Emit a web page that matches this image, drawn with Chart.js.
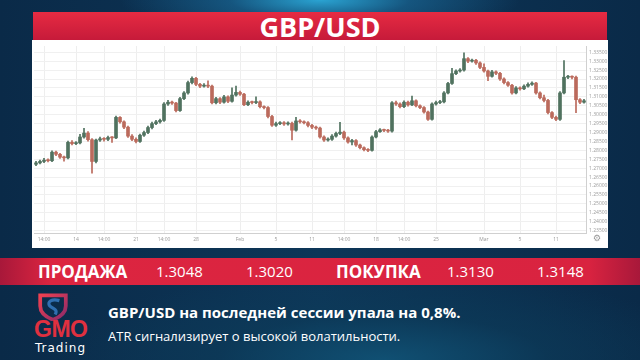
<!DOCTYPE html>
<html>
<head>
<meta charset="utf-8">
<script src="https://cdn.jsdelivr.net/npm/chart.js@4.4.0/dist/chart.umd.min.js"></script>
<style>
  html, body { margin: 0; padding: 0; }
  body {
    width: 640px; height: 360px; overflow: hidden; position: relative;
    font-family: "Open Sans", sans-serif;
    background:
      radial-gradient(ellipse 200px 40px at 50% 0%, #2aa3d2 0%, rgba(30,120,170,0.5) 45%, rgba(10,45,75,0) 100%),
      radial-gradient(ellipse 330px 90px at 60% 100%, #105073 0%, rgba(12,60,90,0.6) 50%, rgba(8,35,60,0) 100%),
      linear-gradient(90deg, #0a2a48 0%, #0d3658 50%, #0a2a48 100%);
  }
  #header {
    position: absolute; left: 33px; top: 12px; width: 574px; height: 28px;
    background: linear-gradient(#e62b42, #c61a3a);
    color: #fff; font-weight: 700; font-size: 27px; line-height: 29px; text-align: center;
  }
  #panel { position: absolute; left: 32px; top: 40px; width: 576px; height: 208px; background: #fff; }
  #gear { position: absolute; left: 593px; top: 233px; font-size: 9px; color: #999; font-family: "DejaVu Sans"; }
  #quotes {
    position: absolute; left: 0; top: 258px; width: 640px; height: 27px;
    background: linear-gradient(90deg, #a8183a 0%, #dc2540 8%, #d92340 92%, #a8183a 100%);
  }
  .q { position: absolute; top: 0; line-height: 27px; color: #fff; font-size: 15px; }
  .q.b { font-weight: 700; font-size: 17px; }
  #line1 { position: absolute; left: 108px; top: 302px; color: #fff; font-weight: 700; font-size: 15px; }
  #line2 { position: absolute; left: 108px; top: 327px; color: #fff; font-size: 13px; }
  #gmo { position: absolute; left: 34px; top: 316px; color: #e0303f; font-weight: 900; font-size: 23px;
    font-family: "Liberation Sans", sans-serif; letter-spacing: -0.5px; transform: scaleX(1.0); transform-origin: left; }
  #trading { position: absolute; left: 35px; top: 341px; color: #fff; font-size: 12px; letter-spacing: 1px;
    font-family: "DejaVu Sans", sans-serif; }
  #shield { position: absolute; left: 37px; top: 293px; }
</style>
</head>
<body>
<div id="header">GBP/USD</div>
<div id="panel"><canvas id="gbpusd-chart" width="576" height="208"></canvas></div>
<div id="gear">⚙</div>

<div id="quotes">
  <span class="q b" style="left:38px">ПРОДАЖА</span>
  <span class="q" style="left:156px">1.3048</span>
  <span class="q" style="left:246px">1.3020</span>
  <span class="q b" style="left:336px">ПОКУПКА</span>
  <span class="q" style="left:447px">1.3130</span>
  <span class="q" style="left:537px">1.3148</span>
</div>

<svg id="shield" width="32" height="28" viewBox="0 0 30 26">
  <defs>
    <linearGradient id="sg" x1="0" y1="0" x2="1" y2="1">
      <stop offset="0" stop-color="#f04050"/>
      <stop offset="1" stop-color="#8a2a6a"/>
    </linearGradient>
  </defs>
  <path d="M3 2 L27 2 L27 12 C27 19 20 23 15 25 C10 23 3 19 3 12 Z" fill="none" stroke="url(#sg)" stroke-width="3.5"/>
  <path d="M21 7 C14 5 9 8 12 12 C15 15 20 15 17 20" fill="none" stroke="#2f6fb0" stroke-width="3"/>
</svg>
<div id="gmo">GMO</div>
<div id="trading">Trading</div>

<div id="line1">GBP/USD на последней сессии упала на 0,8%.</div>
<div id="line2">ATR сигнализирует о высокой волатильности.</div>

<script>
const opens = [1.2722,1.2730,1.2738,1.2745,1.2742,1.2790,1.2778,1.2762,1.2758,1.2845,
  1.2838,1.2842,1.2875,1.2897,1.2860,1.2738,1.2858,1.2865,1.2862,1.2872,
  1.2870,1.2985,1.2960,1.2930,1.2880,1.2862,1.2850,1.2885,1.2900,1.2928,
  1.2950,1.2960,1.2968,1.3060,1.3070,1.3065,1.3023,1.3090,1.3122,1.3180,
  1.3204,1.3170,1.3160,1.3165,1.3160,1.3067,1.3090,1.3070,1.3100,1.3075,
  1.3110,1.3125,1.3115,1.3056,1.3070,1.3068,1.3072,1.3045,1.3040,1.2990,
  1.2941,1.2950,1.2955,1.2948,1.2952,1.2913,1.2965,1.2960,1.2955,1.2940,
  1.2930,1.2925,1.2875,1.2858,1.2862,1.2880,1.2895,1.2902,1.2870,1.2847,
  1.2855,1.2830,1.2815,1.2804,1.2800,1.2875,1.2905,1.2915,1.2912,1.2908,
  1.3067,1.3060,1.3045,1.3070,1.3055,1.3078,1.3050,1.3040,1.3015,1.2974,
  1.3060,1.3068,1.3072,1.3122,1.3175,1.3230,1.3245,1.3250,1.3314,1.3300,
  1.3305,1.3290,1.3265,1.3245,1.3215,1.3240,1.3232,1.3200,1.3180,1.3165,
  1.3122,1.3150,1.3145,1.3160,1.3170,1.3177,1.3122,1.3095,1.3080,1.3012,
  1.2985,1.2974,1.3122,1.3210,1.3212,1.3210,1.3084,1.3070];

const closes = [1.2730,1.2738,1.2745,1.2742,1.2790,1.2778,1.2762,1.2758,1.2845,1.2838,
  1.2842,1.2875,1.2897,1.2860,1.2738,1.2858,1.2865,1.2862,1.2872,1.2870,
  1.2985,1.2960,1.2930,1.2880,1.2862,1.2850,1.2885,1.2900,1.2928,1.2950,
  1.2960,1.2968,1.3060,1.3070,1.3065,1.3023,1.3090,1.3122,1.3180,1.3204,
  1.3170,1.3160,1.3165,1.3160,1.3067,1.3090,1.3070,1.3100,1.3075,1.3110,
  1.3125,1.3115,1.3056,1.3070,1.3068,1.3072,1.3045,1.3040,1.2990,1.2941,
  1.2950,1.2955,1.2948,1.2952,1.2913,1.2965,1.2960,1.2955,1.2940,1.2930,
  1.2925,1.2875,1.2858,1.2862,1.2880,1.2895,1.2902,1.2870,1.2847,1.2855,
  1.2830,1.2815,1.2804,1.2800,1.2875,1.2905,1.2915,1.2912,1.2908,1.3067,
  1.3060,1.3045,1.3070,1.3055,1.3078,1.3050,1.3040,1.3015,1.2974,1.3060,
  1.3068,1.3072,1.3122,1.3175,1.3230,1.3245,1.3250,1.3314,1.3300,1.3305,
  1.3290,1.3265,1.3245,1.3215,1.3240,1.3232,1.3200,1.3180,1.3165,1.3122,
  1.3150,1.3145,1.3160,1.3170,1.3177,1.3122,1.3095,1.3080,1.3012,1.2985,
  1.2974,1.3122,1.3210,1.3212,1.3210,1.3084,1.3070,1.3078];

const highs = [1.2738,1.2746,1.2755,1.2752,1.2798,1.2796,1.2784,1.2768,1.2852,1.2855,
  1.2850,1.2890,1.2924,1.2905,1.2866,1.2864,1.2874,1.2872,1.2880,1.2878,
  1.2992,1.2990,1.2966,1.2936,1.2888,1.2870,1.2892,1.2908,1.2936,1.2958,
  1.2968,1.2976,1.3068,1.3080,1.3076,1.3070,1.3098,1.3130,1.3188,1.3212,
  1.3210,1.3176,1.3174,1.3190,1.3166,1.3098,1.3096,1.3108,1.3106,1.3150,
  1.3160,1.3132,1.3120,1.3078,1.3076,1.3100,1.3078,1.3050,1.3046,1.2996,
  1.2958,1.2962,1.2962,1.2960,1.2958,1.2985,1.2972,1.2966,1.2962,1.2946,
  1.2936,1.2930,1.2882,1.2870,1.2888,1.2902,1.2957,1.2908,1.2876,1.2862,
  1.2860,1.2836,1.2820,1.2810,1.2882,1.2912,1.2922,1.2920,1.2918,1.3074,
  1.3076,1.3066,1.3078,1.3076,1.3105,1.3084,1.3056,1.3046,1.3020,1.3066,
  1.3076,1.3080,1.3130,1.3182,1.3260,1.3252,1.3258,1.3347,1.3320,1.3312,
  1.3310,1.3296,1.3285,1.3250,1.3248,1.3246,1.3238,1.3206,1.3186,1.3170,
  1.3158,1.3156,1.3168,1.3178,1.3184,1.3182,1.3128,1.3110,1.3086,1.3018,
  1.2992,1.3130,1.3303,1.3220,1.3218,1.3216,1.3090,1.3086];

const lows = [1.2715,1.2724,1.2731,1.2735,1.2737,1.2770,1.2755,1.2740,1.2752,1.2830,
  1.2832,1.2836,1.2868,1.2852,1.2672,1.2730,1.2850,1.2852,1.2855,1.2845,
  1.2865,1.2952,1.2922,1.2872,1.2855,1.2842,1.2845,1.2878,1.2894,1.2920,
  1.2944,1.2952,1.2962,1.3052,1.3058,1.3015,1.3018,1.3084,1.3115,1.3172,
  1.3162,1.3152,1.3154,1.3152,1.3060,1.3060,1.3062,1.3064,1.3068,1.3070,
  1.3104,1.3108,1.3050,1.3050,1.3060,1.3062,1.3038,1.3032,1.2982,1.2934,
  1.2935,1.2944,1.2940,1.2942,1.2858,1.2908,1.2952,1.2948,1.2932,1.2922,
  1.2918,1.2868,1.2850,1.2852,1.2856,1.2874,1.2888,1.2862,1.2840,1.2830,
  1.2822,1.2808,1.2797,1.2793,1.2795,1.2870,1.2900,1.2905,1.2900,1.2902,
  1.3052,1.3038,1.3040,1.3048,1.3050,1.3044,1.3034,1.3008,1.2968,1.2970,
  1.3054,1.3062,1.3066,1.3116,1.3170,1.3224,1.3238,1.3244,1.3292,1.3294,
  1.3282,1.3258,1.3238,1.3190,1.3210,1.3225,1.3192,1.3172,1.3158,1.3115,
  1.3116,1.3138,1.3140,1.3154,1.3164,1.3115,1.3088,1.3072,1.3005,1.2978,
  1.2966,1.2968,1.3116,1.3202,1.3200,1.3012,1.3062,1.3064];

// x axis labels and the candle they sit under
const tickIndex = [2, 10, 17, 25, 32, 40, 51, 60, 69, 77, 85, 92, 100, 112, 121, 130];
const tickText = ['14:00', '14', '14:00', '21', '14:00', '28', 'Feb', '5', '11', '14:00', '18', '14:00', '25', 'Mar', '5', '11'];

const upColour = '#50725f';
const downColour = '#bb6a5c';

let labels = opens.map(() => '');
tickIndex.forEach((idx, k) => { labels[idx] = tickText[k]; });

const bodies = opens.map((o, i) => [o, closes[i]]);
const wicks = lows.map((l, i) => [l, highs[i]]);
const candleColours = opens.map((o, i) => closes[i] >= o ? upColour : downColour);

const ctx = document.getElementById('gbpusd-chart');
new Chart(ctx, {
  type: 'bar',
  data: {
    labels: labels,
    datasets: [
      {
        label: 'wick',
        data: wicks,
        backgroundColor: candleColours,
        barThickness: 1,
        grouped: false,
        order: 2
      },
      {
        label: 'body',
        data: bodies,
        backgroundColor: candleColours,
        barThickness: 3,
        minBarLength: 1,
        grouped: false,
        order: 1
      }
    ]
  },
  options: {
    responsive: false,
    animation: false,
    layout: { padding: { left: 1, top: 2, right: 0, bottom: 0 } },
    plugins: {
      legend: { display: false },
      tooltip: { enabled: false }
    },
    scales: {
      x: {
        offset: true,
        afterFit: scale => { scale.height = 15; },
        grid: {
          offset: false,
          drawTicks: false,
          color: c => (labels[c.index] ? '#eeeeee' : 'rgba(0,0,0,0)')
        },
        border: { display: true, color: '#d0d0d0' },
        ticks: {
          autoSkip: false,
          maxRotation: 0,
          padding: 4,
          color: '#9a9a9a',
          font: { size: 5, family: 'Open Sans' }
        }
      },
      y: {
        position: 'right',
        min: 1.2337,
        max: 1.3385,
        afterFit: scale => { scale.width = 22; },
        grid: { color: '#f0f0f0', drawTicks: false },
        border: { display: true, color: '#d0d0d0' },
        ticks: {
          stepSize: 0.005,
          includeBounds: false,
          padding: 3,
          color: '#9a9a9a',
          font: { size: 5, family: 'Open Sans' },
          callback: v => v.toFixed(5)
        }
      }
    }
  }
});
</script>
</body>
</html>
